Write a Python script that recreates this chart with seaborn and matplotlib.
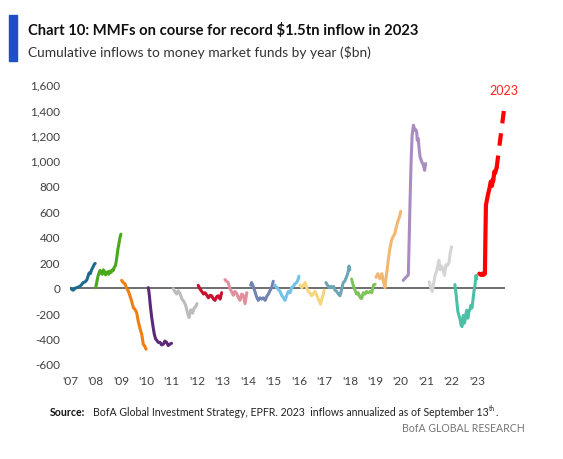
import matplotlib
matplotlib.use("Agg")
import matplotlib.pyplot as plt
from matplotlib.patches import Rectangle
from matplotlib.transforms import offset_copy
import seaborn as sns
import pandas as pd

# ---- data: fraction of year elapsed (t) and cumulative inflow ($bn) (v) ----
t2007 = [0.03,0.08,0.13,0.2,0.26,0.33,0.39,0.46,0.52,0.59,0.66,0.71,0.75,0.8,0.85,0.9,0.96,0.99]
v2007 = [-5,-15,-20,-5,0,5,10,25,40,45,60,90,115,110,140,160,185,190]
t2008 = [0.01,0.05,0.1,0.15,0.18,0.22,0.27,0.31,0.36,0.4,0.44,0.48,0.52,0.57,0.62,0.66,0.7,0.74,0.79,0.84,0.88,0.92,0.96,1.0]
v2008 = [0,40,90,120,135,115,105,140,125,100,115,125,105,130,120,140,135,160,175,236,300,341,390,420]
t2009 = [0.03,0.09,0.16,0.22,0.29,0.35,0.42,0.49,0.55,0.62,0.68,0.75,0.82,0.88,0.94,0.99]
v2009 = [57,40,30,0,-26,-60,-104,-157,-170,-196,-262,-320,-367,-445,-460,-484]
t2010 = [0.08,0.12,0.15,0.18,0.21,0.26,0.31,0.36,0.41,0.47,0.54,0.6,0.67,0.73,0.8,0.86,0.93,0.99]
v2010 = [0,-60,-126,-180,-231,-300,-362,-400,-414,-430,-430,-450,-444,-420,-430,-455,-444,-437]
t2011 = [0.06,0.12,0.19,0.25,0.32,0.4,0.48,0.55,0.62,0.68,0.75,0.82,0.88,0.94,0.99]
v2011 = [-8,-30,-50,-25,-45,-90,-110,-140,-200,-235,-175,-200,-160,-150,-126]
t2012 = [0.04,0.11,0.18,0.25,0.31,0.38,0.44,0.51,0.57,0.64,0.7,0.77,0.83,0.9,0.96]
v2012 = [18,-10,-30,-50,-40,-60,-80,-60,-64,-90,-100,-70,-64,-90,-40]
t2013 = [0.09,0.15,0.22,0.29,0.35,0.42,0.48,0.55,0.62,0.68,0.75,0.81,0.88,0.95]
v2013 = [63,50,40,-10,-30,-60,-30,-45,-80,-100,-50,-60,-126,-40]
t2014 = [0.1,0.14,0.2,0.27,0.33,0.4,0.47,0.53,0.6,0.67,0.73,0.8,0.87,0.93,0.99]
v2014 = [20,40,10,-30,-70,-100,-80,-90,-80,-100,-70,-50,-20,0,50]
t2015 = [0.05,0.13,0.19,0.26,0.32,0.39,0.45,0.52,0.58,0.65,0.71,0.78,0.84,0.91,0.97,1.0]
v2015 = [20,0,-15,-30,-60,-80,-100,-60,-30,-40,0,10,30,40,67,90]
t2016 = [0.05,0.11,0.18,0.24,0.3,0.37,0.43,0.5,0.56,0.63,0.7,0.76,0.81,0.85,0.9,0.96,0.99]
v2016 = [20,0,20,40,0,-30,-40,-64,-50,-30,-60,-90,-110,-130,-90,-50,-20]
t2017 = [0.06,0.12,0.18,0.24,0.3,0.36,0.42,0.48,0.55,0.61,0.67,0.74,0.8,0.86,0.9,0.94,0.97,1.0]
v2017 = [40,20,0,10,0,10,-20,-30,-50,-64,-20,40,50,80,100,130,170,140]
t2018 = [0.07,0.13,0.2,0.27,0.33,0.4,0.46,0.53,0.6,0.66,0.73,0.8,0.86,0.93,0.99]
v2018 = [67,20,-20,-51,-40,-77,-86,-40,-51,-30,-40,-30,-40,20,27]
t2019 = [0.03,0.1,0.18,0.26,0.32,0.38,0.44,0.51,0.57,0.64,0.7,0.77,0.83,0.9,0.96,1.0]
v2019 = [80,110,70,110,50,0,100,215,300,372,400,424,480,529,560,600]
t2020 = [0.1,0.2,0.3,0.33,0.37,0.41,0.45,0.5,0.56,0.6,0.63,0.65,0.69,0.72,0.76,0.83,0.89,0.94,0.98]
v2020 = [57,80,100,350,700,1000,1200,1276,1236,1240,1223,1158,1171,1100,1027,988,962,922,975]
t2021 = [0.12,0.18,0.24,0.3,0.35,0.4,0.46,0.5,0.55,0.6,0.66,0.72,0.78,0.84,0.9,0.95,1.0]
v2021 = [45,0,-30,40,97,120,175,215,140,170,150,97,180,175,200,280,320]
t2022 = [0.13,0.17,0.2,0.25,0.29,0.33,0.37,0.41,0.46,0.5,0.53,0.57,0.6,0.64,0.68,0.72,0.76,0.8,0.84,0.88,0.92,0.96,0.99]
v2022 = [24,-40,-100,-190,-220,-244,-290,-306,-218,-280,-257,-200,-178,-240,-190,-170,-139,-160,-100,-30,18,97,70]
t2023 = [0.09,0.15,0.2,0.25,0.31,0.33,0.35,0.4,0.44,0.49,0.54,0.59,0.62,0.64,0.68,0.71,0.77]
v2023 = [110,100,110,100,110,400,647,700,739,780,833,800,850,840,912,900,940]
# annualized projection for 2023
t2023_proj = [0.77, 1.10]
v2023_proj = [940, 1460]

years = list(range(2007, 2024))
tick_labels = ["'07","'08","'09","'10","'11","'12","'13","'14","'15","'16","'17","'18","'19","'20","'21","'22","'23"]
colors = ["#1d6b8c","#4aa81c","#ee7f10","#5c2878","#bcbcbc","#c8102e","#e3909e","#7184b1",
          "#72c2ea","#f5d67c","#6fa6b6","#7dc55b","#f4b773","#a98cc0","#d4d4d4","#4dbfa7","#ff0000"]

series_t = [t2007,t2008,t2009,t2010,t2011,t2012,t2013,t2014,t2015,t2016,t2017,t2018,t2019,t2020,t2021,t2022,t2023]
series_v = [v2007,v2008,v2009,v2010,v2011,v2012,v2013,v2014,v2015,v2016,v2017,v2018,v2019,v2020,v2021,v2022,v2023]

rows = []
for yr, ts, vs in zip(years, series_t, series_v):
    for t, v in zip(ts, vs):
        rows.append({"year": str(yr), "x": yr + t, "value": v})
df = pd.DataFrame(rows)
proj = pd.DataFrame({"year": "2023", "x": [2023 + t for t in t2023_proj], "value": v2023_proj})

sns.set_theme(style="white")
plt.rcParams["font.family"] = ["Lato", "DejaVu Sans"]

W, H = 563, 460
fig = plt.figure(figsize=(W / 100, H / 100), dpi=100)
ax = fig.add_axes([70 / W, (H - 365) / H, 435 / W, 280 / H])

ax.axhline(0, color="#6e6e6e", lw=1.4, zorder=1)

pal = {str(y): c for y, c in zip(years, colors)}
base = df[df["year"] != "2023"]
sns.lineplot(data=base, x="x", y="value", hue="year", palette=pal, estimator=None,
             sort=False, legend=False, lw=2.2, ax=ax, zorder=3)
sns.lineplot(data=df[df["year"] == "2023"], x="x", y="value", color=colors[-1], estimator=None,
             sort=False, legend=False, lw=3.0, ax=ax, zorder=4)
l = sns.lineplot(data=proj, x="x", y="value", color=colors[-1], estimator=None,
                 sort=False, legend=False, lw=3.0, ax=ax, zorder=4)
l.lines[-1].set_dashes((3, 2.4))
l.lines[-1].set_clip_on(False)

ax.set_xlim(2007, 2024.1)
ax.set_ylim(-600, 1600)
ax.set_yticks(range(-600, 1601, 200))
ax.set_yticklabels([f"{v:,}" for v in range(-600, 1601, 200)])
ax.set_xticks(years)
ax.set_xticklabels(tick_labels)
ax.tick_params(axis="both", length=0, labelsize=8.5, colors="#404040")
ax.tick_params(axis="y", pad=7)
ax.tick_params(axis="x", pad=8)
ax.set_xlabel("")
ax.set_ylabel("")
for s in ax.spines.values():
    s.set_visible(False)
ax.grid(False)

ax.text(2024.05, 1550, "2023", color="#ff2020", fontsize=9, ha="center", va="center")

fig.patches.append(Rectangle((9 / W, 1 - 62 / H), 8 / W, 46 / H, transform=fig.transFigure,
                             color="#1f4fc6", zorder=5))
fig.text(28 / W, 1 - 35 / H, "Chart 10: MMFs on course for record $1.5tn inflow in 2023",
         fontsize=10.6, fontweight="bold", color="#111111")
fig.text(28 / W, 1 - 57 / H, "Cumulative inflows to money market funds by year ($bn)",
         fontsize=9.9, color="#333333")
fig.text(50 / W, 1 - 416 / H, "Source:", fontsize=7.6, fontweight="bold", color="#111111")
main = fig.text(93 / W, 1 - 416 / H,
                "BofA Global Investment Strategy, EPFR. 2023  inflows annualized as of September 13",
                fontsize=7.6, color="#222222")
renderer = fig.canvas.get_renderer()
bb = main.get_window_extent(renderer=renderer)
x_end = bb.x1 / W
sup = fig.text(x_end + 0.5 / W, 1 - 411 / H, "th", fontsize=4.8, color="#222222")
bb2 = sup.get_window_extent(renderer=renderer)
fig.text(bb2.x1 / W, 1 - 416 / H, ".", fontsize=7.6, color="#222222")
fig.text(525 / W, 1 - 432 / H, "BofA GLOBAL RESEARCH", fontsize=7.6, color="#777777", ha="right")

fig.savefig("out.png", dpi=100)
